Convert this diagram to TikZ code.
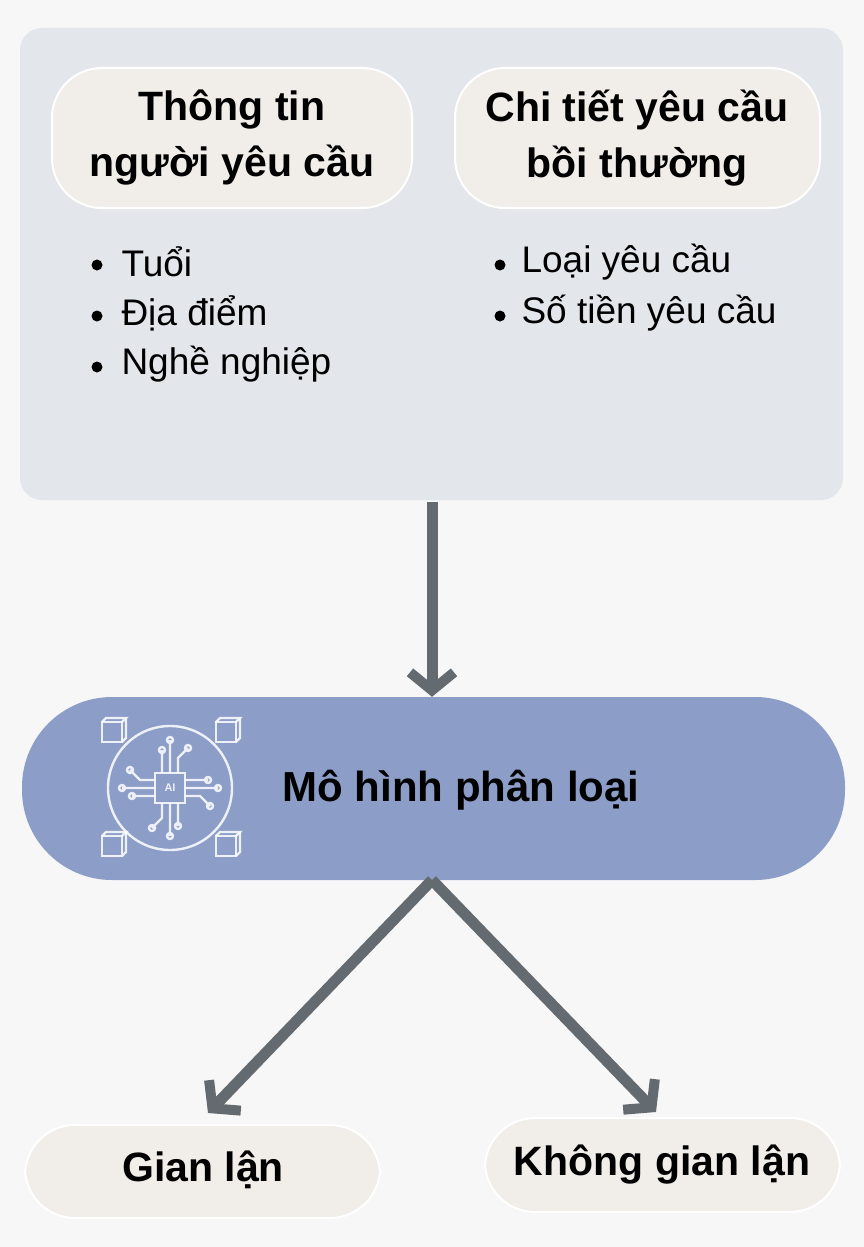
\documentclass[tikz,border=0pt]{standalone}
\usepackage{fontspec}
\setmainfont{Liberation Sans}
\usetikzlibrary{arrows.meta}
\definecolor{bg}{HTML}{F7F7F8}
\definecolor{panel}{HTML}{E3E6EB}
\definecolor{pill}{HTML}{F1EEEA}
\definecolor{model}{HTML}{8C9DC7}
\definecolor{arr}{HTML}{646B70}
\begin{document}
\begin{tikzpicture}[x=1pt,y=-1pt,
  pillst/.style={fill=pill,draw=white,line width=2pt,rounded corners=50pt},
  head/.style={font=\fontsize{41}{56}\selectfont\bfseries,align=center,text=black},
  item/.style={font=\fontsize{37}{40}\selectfont,anchor=west,text=black},
  dot/.style={circle,fill=black,inner sep=0,minimum size=11pt},
  conn/.style={draw=arr,line width=11pt,-{Straight Barb[length=18pt,width=44pt,line width=10pt]}},
  icon/.style={draw=white,line width=2.4pt,opacity=0.85}]
\useasboundingbox (0,0) rectangle (864,1247);
\fill[bg] (0,0) rectangle (864,1247);
\fill[panel,rounded corners=22pt] (20,28) rectangle (843,500);
\draw[pillst] (52,68) rectangle (412,208);
\draw[pillst] (455,68) rectangle (820,208);
\node[head] (h1) at (232,138) {Thông tin\\người yêu cầu};
\node[head] (h2) at (637,138) {Chi tiết yêu cầu\\bồi thường};
\node[dot] (b1) at (97,265) {}; \node[item] (t1) at (118,262) {Tuổi};
\node[dot] (b2) at (97,316) {}; \node[item] (t2) at (118,313) {Địa điểm};
\node[dot] (b3) at (97,367) {}; \node[item] (t3) at (118,364) {Nghề nghiệp};
\node[dot] (b4) at (500,265) {}; \node[item] (t4) at (518,262) {Loại yêu cầu};
\node[dot] (b5) at (500,316) {}; \node[item] (t5) at (518,313) {Số tiền yêu cầu};
\coordinate (top) at (432,502);
\node[fill=model,rounded corners=90pt,minimum width=823pt,minimum height=183pt] (m) at (433.5,788.5) {};
\node[font=\fontsize{42}{44}\selectfont\bfseries] (mt) at (461,790) {Mô hình phân loại};
% icon
\begin{scope}[icon]
\draw (170,788) circle (62);
\draw (155,773) rectangle (185,803);
\node[text=white,font=\bfseries\fontsize{11}{12}\selectfont] at (170,788) {AI};
\foreach \a in {0,90,180,270}{
 \begin{scope}[rotate around={\a:(170,788)}]
 \draw (162,773)--(162,750) circle (3);
 \draw (170,773)--(170,740) circle (3);
 \draw (178,773)--(178,758)--(188,748) circle (3);
 \end{scope}}
\foreach \cx/\cy in {113/731,227/731,113/845,227/845}{
 \draw (\cx-11,\cy-9) rectangle (\cx+9,\cy+11);
 \draw (\cx-11,\cy-9)--(\cx-7,\cy-13)--(\cx+13,\cy-13)--(\cx+9,\cy-9);
 \draw (\cx+13,\cy-13)--(\cx+13,\cy+7)--(\cx+9,\cy+11);}
\end{scope}
\draw[pillst] (25,1125) rectangle (380,1218);
\draw[pillst] (485,1118) rectangle (840,1212);
\node[head] (g1) at (203,1170) {Gian lận};
\node[head] (g2) at (662,1165) {Không gian lận};
\draw[conn] (top) -- (m.north -| top);
\coordinate (bot) at (432,880);
\coordinate (e1) at (208,1113);
\coordinate (e2) at (656,1112);
\draw[conn] (bot) -- (e1);
\draw[conn] (bot) -- (e2);
\end{tikzpicture}
\end{document}
